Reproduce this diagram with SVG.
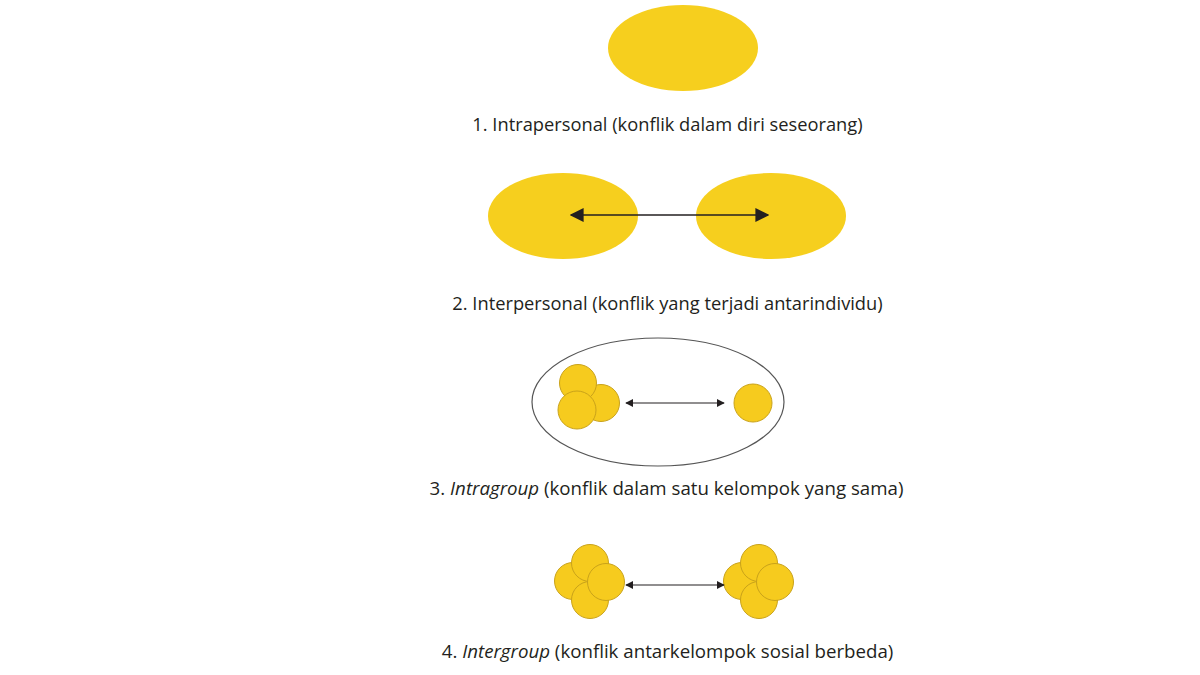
<svg xmlns="http://www.w3.org/2000/svg" width="1200" height="675" viewBox="0 0 1200 675">
<defs>
<style>
.blob{fill:#F6CF1E}
.c{fill:#F6CB1E;stroke:#C9A21A;stroke-width:1}
.lbl{font-family:"Open Sans","Liberation Sans",sans-serif;font-size:18.3px;fill:#231F20;text-anchor:middle}
.lbl2{font-size:18.7px}
.it{font-style:italic}
.ln{stroke:#231F20;stroke-width:1.3;fill:none}
.ln2{stroke:#231F20;stroke-width:1.2;fill:none}
</style>
<marker id="ahBig" viewBox="0 0 10 10" refX="9" refY="5" markerWidth="14" markerHeight="14" markerUnits="userSpaceOnUse" orient="auto-start-reverse">
<path d="M0,0 L10,5 L0,10 Z" fill="#231F20"/>
</marker>
<marker id="ahSmall" viewBox="0 0 10 10" refX="9" refY="5" markerWidth="8" markerHeight="8" markerUnits="userSpaceOnUse" orient="auto-start-reverse">
<path d="M0,0 L10,5 L0,10 Z" fill="#231F20"/>
</marker>
</defs>
<rect width="1200" height="675" fill="#FFFFFF"/>

<g id="node1">
<ellipse class="blob" cx="683" cy="48" rx="75" ry="43"/>
<text class="lbl" x="667.5" y="131">1. Intrapersonal (konflik dalam diri seseorang)</text>
</g>

<g id="node2a"><ellipse class="blob" cx="563" cy="216" rx="75" ry="43"/></g>
<g id="node2b"><ellipse class="blob" cx="771" cy="216" rx="75" ry="43"/></g>
<g id="label2"><text class="lbl" x="667.5" y="310">2. Interpersonal (konflik yang terjadi antarindividu)</text></g>

<g id="node3">
<ellipse cx="658" cy="402" rx="126" ry="64" fill="none" stroke="#555" stroke-width="1.2"/>
<circle class="c" cx="601" cy="403" r="18.5"/>
<circle class="c" cx="578" cy="383" r="18.5"/>
<circle class="c" cx="577" cy="410" r="19"/>
<circle class="c" cx="753" cy="403" r="19"/>
<text class="lbl lbl2" x="666.5" y="495">3. <tspan class="it">Intragroup</tspan> (konflik dalam satu kelompok yang sama)</text>
</g>

<g id="node4a">
<circle class="c" cx="573" cy="581" r="18.5"/>
<circle class="c" cx="590" cy="563" r="18.5"/>
<circle class="c" cx="590" cy="600" r="18.5"/>
<circle class="c" cx="606" cy="582" r="18.5"/>
</g>
<g id="node4b">
<circle class="c" cx="742" cy="581" r="18.5"/>
<circle class="c" cx="759" cy="563" r="18.5"/>
<circle class="c" cx="759" cy="600" r="18.5"/>
<circle class="c" cx="775" cy="582" r="18.5"/>
</g>
<g id="label4"><text class="lbl lbl2" x="667.5" y="658">4. <tspan class="it">Intergroup</tspan> (konflik antarkelompok sosial berbeda)</text></g>

<g id="connectors">
<line class="ln" x1="571" y1="215" x2="768" y2="215" marker-start="url(#ahBig)" marker-end="url(#ahBig)"/>
<line class="ln2" x1="626" y1="403" x2="724" y2="403" marker-start="url(#ahSmall)" marker-end="url(#ahSmall)"/>
<line class="ln2" x1="626" y1="585" x2="724" y2="585" marker-start="url(#ahSmall)" marker-end="url(#ahSmall)"/>
</g>
</svg>
